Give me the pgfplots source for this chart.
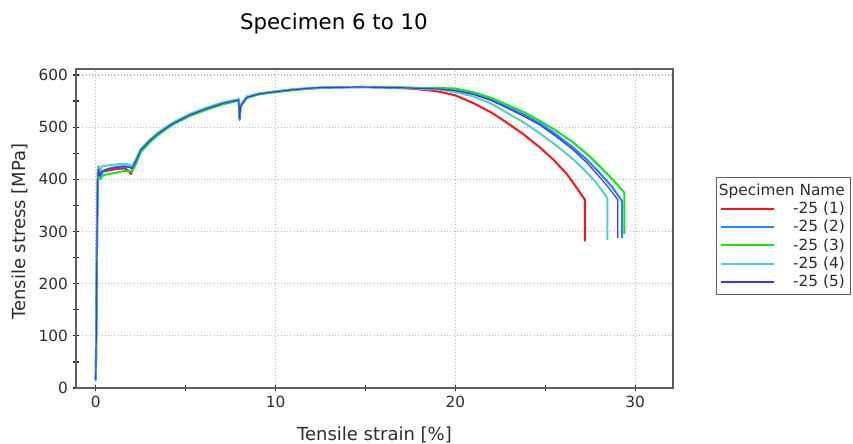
\documentclass[border=0pt]{standalone}
\usepackage{pgfplots}
\pgfplotsset{compat=1.18}
\usepackage{fontspec}
\setmainfont{DejaVu Sans}

\definecolor{cRed}{RGB}{255,20,20}
\definecolor{cBlue}{RGB}{30,136,255}
\definecolor{cGreen}{RGB}{20,230,20}
\definecolor{cCyan}{RGB}{85,208,200}
\definecolor{cBlueB}{RGB}{55,55,255}
\definecolor{frame}{RGB}{95,95,95}
\definecolor{txt}{RGB}{45,45,45}

\begin{document}
\begin{tikzpicture}
% page size: 853 x 443 px at 0.75pt per px, axis box from px (76,388) to (673,69)
\useasboundingbox (-57pt,-41.25pt) rectangle (582.75pt,291pt);
\begin{axis}[
    scale only axis,
    width=447.75pt, height=239.25pt,
    xmin=-1.1, xmax=32.1,
    ymin=0, ymax=611.5,
    xtick={0,10,20,30},
    minor xtick={5,15,25},
    ytick={0,100,...,600},
    minor ytick={50,150,...,550},
    tick pos=left,
    tick align=center,
    major tick length=5pt,
    minor tick length=5pt,
    tick style={line width=0.9pt, color=txt},
    axis line style={line width=1.2pt, color=frame},
    xmajorgrids, ymajorgrids,
    grid style={dotted, line width=0.8pt, color=gray!55},
    /pgf/number format/assume math mode=true,
    tick label style={font=\fontsize{11.5}{13}\selectfont, color=txt},
    title={Specimen 6 to 10},
    title style={font=\fontsize{16}{18}\selectfont, color=black, at={(axis description cs:0.432,1)}, anchor=center, yshift=28pt},
    xlabel={Tensile strain [\%]},
    ylabel={Tensile stress [MPa]},
    label style={font=\fontsize{13.5}{15}\selectfont, color=txt},
    xlabel style={at={(axis description cs:0.5,0)}, anchor=center, yshift=-35pt},
    ylabel style={at={(axis description cs:-0.094,0.49)}, anchor=center},
    legend cell align=right,
    legend style={at={(1,0.476)}, anchor=west, xshift=32pt, draw=frame, line width=1pt,
        font=\fontsize{11.5}{12}\selectfont, text=txt, inner xsep=2.5pt, inner ysep=2.5pt,
        row sep=-0.5pt, column sep=11.5pt},
    legend image code/.code={\draw[#1] (0pt,0pt) -- (40pt,0pt);},
    every axis plot/.append style={line join=round},
]
\addlegendimage{empty legend}
\addlegendentry{\makebox[0pt][r]{Specimen Name}}

% -25 (1)
\addplot[cRed, line width=1.5pt] coordinates {
(0,15) (0.04,150) (0.08,330) (0.12,422) (0.16,418) (0.22,408) (0.35,414)
(0.7,417) (1.2,420) (1.6,421) (1.85,416) (1.95,410) (2.05,418) (2.2,433)
(2.5,456) (3.0,474) (3.4,486) (3.9,498) (4.3,507) (5.2,523) (6.2,536)
(7.1,546) (7.95,552) (8.0,518) (8.05,542) (8.4,557) (9.1,564) (10,568)
(11,572) (12,574) (12.8,576) (14.7,577) (16.0,576) (17.5,574) (18.4,571)
(19.1,568) (20.0,561) (21.0,546) (22.0,528) (22.8,510) (23.8,486)
(24.7,461) (25.5,436) (26.2,410) (26.8,381) (27.2,361) (27.2,281)
};
\addlegendentry{-25 (1)}

% -25 (2)
\addplot[cBlue, line width=1.6pt] coordinates {
(0,15) (0.04,160) (0.08,340) (0.12,405) (0.16,418) (0.2,402) (0.26,404)
(0.35,415) (0.7,420) (1.2,424) (1.6,425) (1.9,424) (2.0,421) (2.2,434)
(2.5,457) (3.0,475) (3.4,487) (3.9,499) (4.3,508) (5.2,524) (6.2,537)
(7.1,547) (7.95,553) (8.0,514) (8.05,540) (8.4,558) (9.1,564) (10,568)
(11,572) (12,575) (12.8,576) (14.7,577) (16.5,576) (17.5,575) (18.4,574)
(19.1,573) (20.0,570) (21.0,564) (22.0,553) (22.8,540) (23.8,524)
(24.7,507) (25.6,486) (26.5,462) (27.3,438) (28.0,413) (28.7,386)
(29.27,358) (29.27,288)
};
\addlegendentry{-25 (2)}

% -25 (3)
\addplot[cGreen, line width=1.5pt] coordinates {
(0,15) (0.04,150) (0.08,320) (0.12,398) (0.18,412) (0.25,400) (0.4,408)
(1.0,412) (1.6,416) (1.9,416) (2.0,414) (2.2,427) (2.5,452) (3.0,471)
(3.4,483) (3.9,496) (4.3,505) (5.2,521) (6.2,534) (7.1,544) (7.95,551)
(8.0,520) (8.05,540) (8.4,556) (9.1,563) (10,567) (11,571) (12,574)
(12.8,576) (14.7,577) (16.5,577) (17.5,576) (18.4,575) (19.1,575)
(20.0,574) (21.0,567) (22.0,556) (22.8,544) (23.8,529) (24.7,512)
(25.6,493) (26.5,472) (27.5,443) (28.4,412) (29.0,390) (29.4,374)
(29.4,295)
};
\addlegendentry{-25 (3)}

% -25 (4)
\addplot[cCyan, line width=1.5pt] coordinates {
(0,15) (0.04,160) (0.08,345) (0.12,420) (0.16,426) (0.22,415) (0.35,425)
(1.0,428) (1.6,430) (1.9,428) (2.0,425) (2.2,436) (2.5,458) (3.0,476)
(3.4,488) (3.9,500) (4.3,509) (5.2,525) (6.2,538) (7.1,548) (7.95,554)
(8.0,522) (8.05,543) (8.4,559) (9.1,565) (10,569) (11,573) (12,575)
(12.8,576) (14.7,577) (16.5,576) (17.5,575) (18.4,573) (19.1,572)
(20.0,567) (21.0,559) (22.0,545) (22.8,529) (23.8,509) (24.7,488)
(25.6,465) (26.5,440) (27.2,417) (27.8,395) (28.45,364) (28.45,284)
};
\addlegendentry{-25 (4)}

% -25 (5)
\addplot[cBlueB, line width=0.9pt] coordinates {
(0,15) (0.04,155) (0.08,335) (0.12,410) (0.16,420) (0.22,406) (0.35,416)
(0.7,420) (1.2,423) (1.6,424) (1.9,423) (2.0,420) (2.2,433) (2.5,456)
(3.0,474) (3.4,486) (3.9,498) (4.3,507) (5.2,523) (6.2,536) (7.1,546)
(7.95,552) (8.0,516) (8.05,540) (8.4,557) (9.1,564) (10,568) (11,572)
(12,575) (12.8,576) (14.7,577) (16.5,576) (17.5,575) (18.4,574)
(19.1,573) (20.0,570) (21.0,563) (22.0,551) (22.8,538) (23.8,521)
(24.7,504) (25.6,482) (26.5,458) (27.3,432) (28.0,405) (28.5,385)
(29.03,361) (29.03,288)
};
\addlegendentry{-25 (5)}
\end{axis}
\end{tikzpicture}
\end{document}
